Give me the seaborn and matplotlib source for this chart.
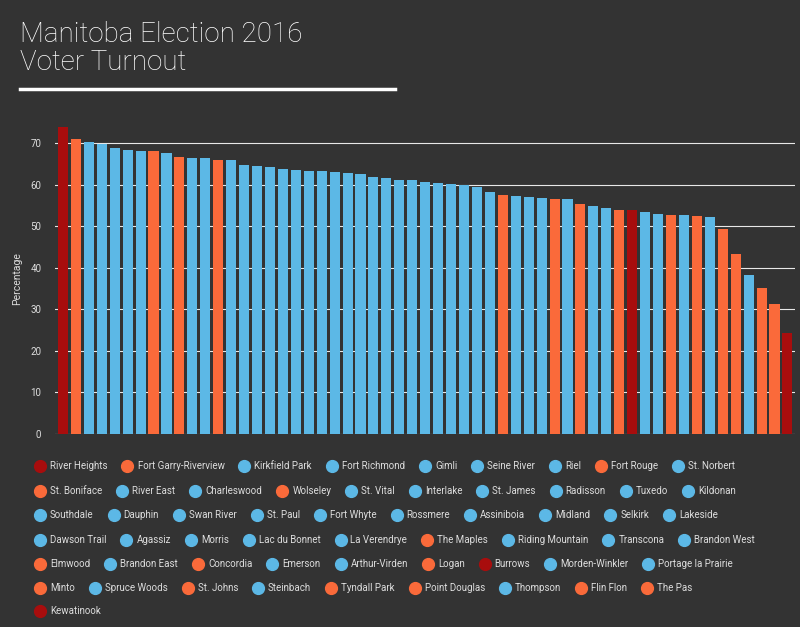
import matplotlib
matplotlib.use("Agg")
import matplotlib.pyplot as plt
import seaborn as sns
import pandas as pd

names = ["River Heights","Fort Garry-Riverview","Kirkfield Park","Fort Richmond","Gimli","Seine River","Riel","Fort Rouge","St. Norbert",
"St. Boniface","River East","Charleswood","Wolseley","St. Vital","Interlake","St. James","Radisson","Tuxedo","Kildonan",
"Southdale","Dauphin","Swan River","St. Paul","Fort Whyte","Rossmere","Assiniboia","Midland","Selkirk","Lakeside",
"Dawson Trail","Agassiz","Morris","Lac du Bonnet","La Verendrye","The Maples","Riding Mountain","Transcona","Brandon West",
"Elmwood","Brandon East","Concordia","Emerson","Arthur-Virden","Logan","Burrows","Morden-Winkler","Portage la Prairie",
"Minto","Spruce Woods","St. Johns","Steinbach","Tyndall Park","Point Douglas","Thompson","Flin Flon","The Pas","Kewatinook"]
turnout = [73.8,71.0,70.2,69.8,68.8,68.4,68.1,68.0,67.6,66.7,66.5,66.4,66.0,65.8,64.8,64.5,64.2,63.8,63.4,63.3,63.2,63.0,62.8,62.5,
61.8,61.5,61.2,61.0,60.6,60.3,60.1,60.0,59.4,58.3,57.6,57.2,57.0,56.7,56.6,56.5,55.4,54.8,54.3,53.9,53.8,53.4,53.0,
52.8,52.7,52.5,52.2,49.3,43.3,38.2,35.0,31.3,24.3]
party = ["L","N","P","P","P","P","P","N","P","N","P","P","N","P","P","P","P","P","P","P","P","P","P","P","P","P","P","P","P",
"P","P","P","P","P","N","P","P","P","N","P","N","P","P","N","L","P","P","N","P","N","P","N","N","P","N","N","L"]
legend_rows = [9, 10, 10, 9, 9, 9, 1]

pal = {"P": "#5cb8e6", "N": "#fa6a3a", "L": "#a80d0d"}
BG = "#333333"
plt.rcParams['font.family'] = ['Roboto', 'DejaVu Sans']
df = pd.DataFrame({"name": names, "v": turnout, "party": party})

fig = plt.figure(figsize=(8, 6.27), dpi=100, facecolor=BG)
ax = fig.add_axes([0.069, 0.308, 0.925, 0.497], facecolor=BG)
sns.barplot(data=df, x="name", y="v", hue="party", palette=pal, dodge=False,
            width=0.78, legend=False, ax=ax, saturation=1)
ax.set_ylim(0, 75)
ax.set_xlim(-0.6, len(names) - 0.4)
ax.set_yticks(range(0, 80, 10))
ax.yaxis.grid(True, color="#e8e8e8", lw=0.8)
ax.set_axisbelow(True)
ax.tick_params(axis="y", colors="#dddddd", labelsize=7, length=0, pad=10)
ax.set_xticks([])
ax.set_xlabel("")
ax.set_ylabel("Percentage", color="#dddddd", fontsize=7.5, labelpad=6)
for s in ax.spines.values():
    s.set_visible(False)

fig.text(0.025, 0.945, "Manitoba Election 2016", color="white", fontsize=20, va="center", fontweight="light")
fig.text(0.025, 0.9, "Voter Turnout", color="white", fontsize=20, va="center", fontweight="light")
fig.add_artist(plt.Line2D([0.025, 0.494], [0.858, 0.858], color="white", lw=2.5))

fig.canvas.draw()
r = fig.canvas.get_renderer()
W, H = 800, 627
rows_y = [466, 491, 515, 540, 564, 588, 611]
i = 0
for ry, n in zip(rows_y, legend_rows):
    x = 40
    y = 1 - ry / H
    for k in range(n):
        fig.add_artist(plt.Line2D([x / W], [y], marker="o", ms=8.5, color=pal[party[i]], lw=0))
        t = fig.text((x + 10) / W, y, names[i], color="#dddddd", fontsize=7, va="center")
        w = t.get_window_extent(r).width
        x += 10 + w + 20
        i += 1

fig.savefig("out.png", dpi=100, facecolor=BG)
